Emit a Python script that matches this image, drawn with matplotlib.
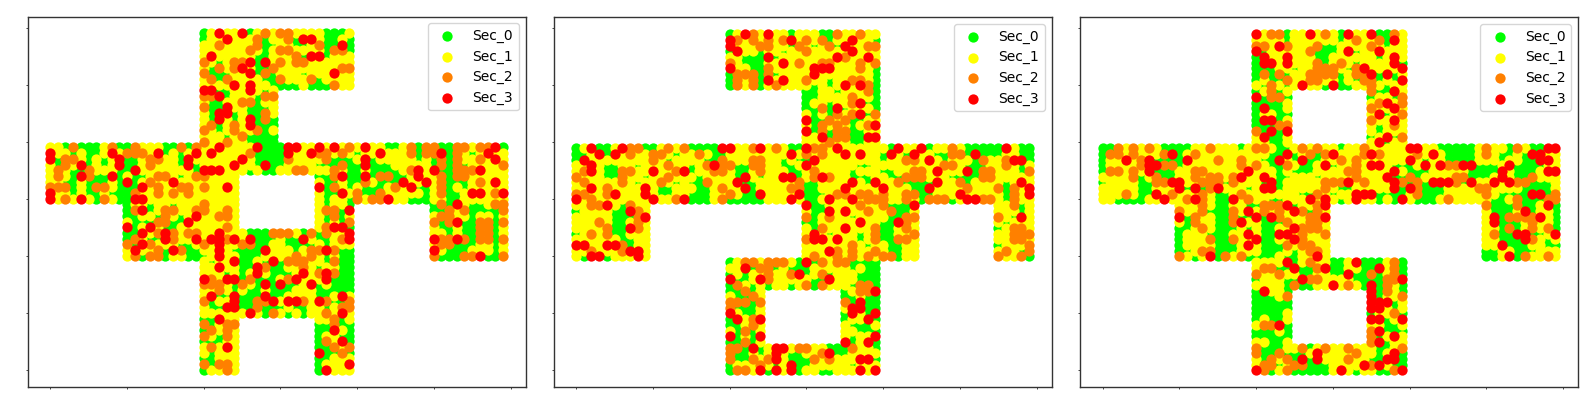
import matplotlib
matplotlib.use("Agg")
import matplotlib.pyplot as plt

LABELS = ["Sec_0", "Sec_1", "Sec_2", "Sec_3"]
COLORS = ["#00ff00", "#ffff00", "#ff8000", "#ff0000"]
TICKS = [0, 10, 20, 30, 40, 50, 60]

# occupied blocks: (x0, x1, y0, y1), inclusive
P1_SHAPE = [(20,39,50,59),(20,29,40,49),(0,59,35,39),(0,24,30,34),(35,59,30,34),(10,24,20,29),(35,39,25,29),(50,59,20,29),(20,39,10,24),(20,24,0,9),(35,39,0,9)]
P2_SHAPE = [(20,39,50,59),(30,39,40,49),(0,59,30,39),(0,9,20,29),(30,44,20,29),(55,59,20,29),(30,39,15,19),(20,39,15,19),(20,24,5,14),(35,39,5,14),(20,39,0,4)]
P3_SHAPE = [(20,39,50,59),(20,24,40,49),(35,39,40,49),(0,59,30,39),(10,29,20,29),(50,59,20,29),(20,39,15,19),(20,24,5,14),(35,39,5,14),(20,39,0,4)]

P1_S3 = {59:[22,25],58:[23,33,34],57:[38],55:[21,34,35],54:[26,28],53:[25],52:[26,37],50:[24,26],49:[20,21,26],48:[22],46:[23],45:[22,23],44:[22,26],43:[26],
39:[22,27,31,32,35,37,41,58],38:[0,8,14,19,21,31,34,43,51,57],37:[0,9,18,25,41,58],36:[4,9,18,24,28,41],35:[11,20,21,22,48,50,56],34:[4,8,38,41,48],33:[10,16,46,49,58],32:[12,23,35,47],31:[0,38,55,56,59],30:[0,4,11,12,44],
29:[53],28:[12,39],27:[19],26:[18,53],25:[10,13,37,38],24:[12,15,22,39],23:[15,19,21,22,24,26,33,39,50,53],22:[12,22],21:[11,16,22,28,36,50],20:[22,56],19:[24,29],18:[22,27],17:[27,33,36],16:[20,23,24,32,36],15:[28,30,34],13:[21,24,28,38],12:[24,29,31,32,35],11:[23,24],10:[26,38],9:[22],7:[37],5:[38],4:[23],3:[35],1:[39],0:[36]}
P1_S2 = {59:[28,30,31],58:[27,31],57:[22,27,35],56:[26,30,31,37,38],55:[32],54:[20,24,25,30,32,33],53:[22,24,29,38,39],52:[20,28],51:[21,23,30,34],50:[37],48:[20,21,28,29],47:[25,26],46:[20],45:[28],44:[28],43:[21,24],42:[20,24,27],41:[25],40:[20,23],
39:[3,8,11,17,19,39,47,49,50,53,54,56,57],38:[10,11,12,26,35,36,38,47,49,50,53],37:[2,3,13,14,31,36,51,53,56],36:[2,13,38,51,53,59],35:[1,5,32,33,37,47,53,54,55],34:[1,5,14,15,19,20,37,43,44,51,53,54],33:[13,41,51,56],32:[0,1,2,6,7,14,17,18,20,37,45,51],31:[11,14,16,18,40,43,51,58],30:[2,7,40,42,43],
29:[20,51,58,59],28:[11,15,16,19,20,23,36,37,52,54,59],27:[15,22,23,37,51,52],26:[14,15,39,50,52,56,57,59],25:[23,36,56,57],24:[14,16,18,19,29,30,31,34,36,56,57],23:[11,16,23,38,51,52,54,56,57,59],22:[10,13,20,25,26,51,52],21:[14,17,35,37,34],20:[11,13,14,32,34,50,54,55,59],19:[31,32,33,37],18:[28,33],17:[35,37],16:[21,26,31],15:[20,21,22,25],14:[22],12:[20,27,28,33,36,39],11:[27,38,39],10:[29,36],9:[37],8:[20,23,24,37],7:[21,23],6:[20,23],5:[36],4:[21,37,39],3:[38],1:[20,22,23],0:[23]}
P1_S0 = {59:[20,26,36,37,38],58:[20,28,32,36,37,39],57:[28,29,32,33,36,37,39],56:[28,36,37,39],55:[27,28,33,36],54:[22,27],53:[21,22,27,28],52:[21,22,23,27,29,33],51:[22,28,29,35],50:[29,30,31,32,34,35,36],49:[22,23,28],48:[23,27],47:[21,22,27],46:[21,22,26,27,28],45:[21,24,26,27],44:[21,24,27,29],43:[22,27,28,29],42:[22,28],41:[23,26,27,28,29],40:[26,27,28,29],
39:[2,4,5,6,9,10,15,16,18,28,29,30,44,45,48,51,52,59],38:[3,5,6,10,15,17,27,28,29,30,40,48,52,55],37:[1,5,7,10,11,17,27,28,29,30,37,38,39,42,48,50,52],36:[1,5,7,10,11,17,19,27,29,30,35,36,37,39,40,42,43,44,50,52,54],35:[3,4,9,10,19,26,28,29,39,40,42,43,44,45,51,52],34:[3,6,7,9,11,12,17,35,36,39,40,42,45,46,52],33:[2,3,5,6,7,9,11,36,37,39,40,43,44,45,52,53,54],32:[3,5,9,10,11,36,39,41,42,43,48,49,52,54],31:[3,5,6,8,9,10,36,37,41,42,49,52,53],30:[6,9,10,36,39,47,48,49,52,53],
29:[10,13,16,36,39,50,52,55,56],28:[10,13,36,38,50,51,55,56,57,58],27:[10,11,14,17,36,38,55,58],26:[11,12,13,16,17,36,38,51,54,55,58],25:[11,15,16,39,51,52,54,55,58],24:[10,11,26,27,28,33,35,52,54,55,58],23:[10,13,14,27,28,29,31,32,35,36,55,58],22:[11,17,18,27,28,31,32,33,34,36,53,54,55,58],21:[15,18,19,24,25,26,27,32,38,39,52,53,54,58],20:[12,15,18,19,20,25,26,27,36,38,39,51,52,53,57,58],19:[21,25,26,28,30,36,38,39],18:[25,26,29,30,35,38,39],17:[23,25,29,30,31,38,39],16:[25,27,28,29,37,38,39],15:[24,27,29,31,32,35,37,38,39],14:[24,26,27,29,30,31,35,36,37,38,39],13:[22,23,25,26,27,29,30,35,36],12:[21,25,26,37,38],11:[21,22,25,26,28,29,30,32,33,36],10:[28,31,33],9:[20,21,38],8:[21,35,36,38,39],7:[20,35,36,39],6:[22,35,38,39],5:[20,21,22,35,39],4:[35,36],3:[21,36,37,39],2:[20,21,35,36],1:[21,35],0:[20,35]}

P2_S3 = {59:[22,25],58:[20,28,36],57:[20,35],56:[21,36],55:[25,34,38],54:[27],53:[20,31,32,33],52:[31],51:[25,27],50:[35,37],47:[37],46:[34],45:[37],44:[30],43:[39],42:[30],41:[32,38,39],
39:[2,6,19,20,24,30,34,42,45,56],38:[3,5,28,35,37,41,44,52],37:[1,31,46,57,58],36:[2,18,30],35:[2,10,14,47,51],34:[22,27,28,32],33:[21,36,39,47,58],32:[2,9,22,35,40,46,59],31:[5,9,24,29,50,59],30:[0,10,14,28,33,36,51,52],
29:[4,30,44],28:[7,33,35],27:[9,58],26:[37,42],25:[7,35],24:[31],23:[31,32,34],22:[0,1,4,5],21:[7,8,33],20:[2,3,8],19:[30],18:[22],17:[29],16:[20,24,33],14:[39],12:[37],11:[36,37],10:[20,36,39],9:[21,24,38],6:[20,24,39],5:[35,38],4:[23,26,27],3:[26,33],2:[26,37,38],1:[28],0:[24,26,28,37,39]}
P2_S2 = {59:[23,34,37],58:[21,23,25,27,30,32],57:[24,25,29,33,38,39],56:[30],55:[35],54:[20,29,32,33,37,39],53:[25,37],52:[21,22,23,25],51:[21,23,30,36,37],50:[21,23,26,38],49:[38],48:[36],47:[36],46:[32],45:[34,36,39],44:[33,35],43:[32,34,38],42:[32,34,35],41:[34,35],40:[33],
39:[7,8,12,14,23,26,31,32,49],38:[7,10,11,16,30,32,49,50],37:[10,19,23,24,43,44,53,56],36:[12,17,19,20,23,24,48,49,56],35:[1,6,7,13,18,19,24,31,44,45,53,54,59],34:[0,6,12,31,33,43,44,45,53,54],33:[1,6,11,17,29,42,50],32:[4,19,28,29,51,55,57],31:[0,1,4,20,34,35,37,38,40,43,44,57],30:[2,13,19,38,39,40,43,46,47,48,53,54,57],
29:[2,3,7,37,40,57],28:[8,38,41],27:[8,9,30,33,43,44,55],26:[3,8,43],25:[4,8,32,39,43,57,58],24:[2,4,39,44,57,58,59],23:[30,39,42,43,57,58],22:[6,36,59],21:[2,6,34,36,39,56,59],20:[31,34,36,38,40,41,55,58],19:[22,23,25,26,27,32,34,35],18:[24,25],17:[25,28,32],16:[25],15:[21,30,32,37,38],14:[22,37,38],13:[23],12:[20,21,22,24,35],11:[20],9:[23],8:[23],7:[22],5:[22],4:[20,21,29,30,36],3:[20,32],2:[20,23,25,31,33],1:[24],0:[21,22]}
P2_S0 = {59:[20,28,32,33],58:[33,39],57:[28,31,34],56:[20,24,27],55:[22,23,24,26],54:[22,23,24],53:[23,24,39],52:[20,24,26,39],51:[20,24,33,39],50:[20,24,31,33,39],49:[30,31,34,39],48:[30,31,39],47:[30,33,38,39],46:[30,31,33,35,39],45:[31,33,38],44:[31,32,36,37],43:[31,36],42:[31,33,36,37],41:[33,36,37],40:[36,37],
39:[0,3,4,9,10,15,16,17,18,28,29,41,46,51,52,53,54,55,58,59],38:[0,1,4,5,13,18,19,40,43,47,48,51,52,53,54,55,58,59],37:[0,12,17,18,27,29,30,40,48,52,59],36:[4,5,8,15,21,22,27,28,30,37,38,51,52,53,58],35:[4,5,15,21,22,28,29,36,40,41,52,58],34:[4,5,9,16,21,24,29,36,37,38,41,42,49,50,51,52],33:[8,13,15,16,22,23,30,31,38,43,44,45,46,51,56],32:[11,12,16,17,23,30,31,44,45,56],31:[11,12,15,16,17,22,23,30,31,32,45,46,56],30:[15,16,17,20,21,22,23,24,30,31,45,49,56],
29:[6,31,32,41,42,43,58],28:[0,5,6,31,32,42,43,58],27:[5,6,7,31,36,41,42,57],26:[5,6,30,31,40,41,56],25:[5,6,31,40,41,55],24:[0,5,6,33,37,40,41],23:[6,7,37,40,41],22:[7,38,41,42,55],21:[41,42,58],20:[1,4,42,59],19:[20,29,31,36,37,38,39],18:[23,26,28,29,30,36,38,39],17:[20,22,30,33,37,38,39],16:[21,22,31,32,37,38,39],15:[20,23,25,28,31,36,39],14:[20,21,23,35,39],13:[21,22,35,36,38,39],12:[23,36,38,39],11:[21,22,23,38,39],10:[22,23,35,38],9:[20,35,39],8:[20,21,36,37,38],7:[21,23,37,38,39],6:[21,23,36],5:[20,21,23,36,39],4:[22,24,33,34,35,39],3:[21,22,24,28,29,34,35],2:[21,22,28,29,30,39],1:[20,26,29,30,36],0:[20,25,29,32,33]}

P3_S3 = {59:[20,27,32,35],58:[38],57:[23],56:[20,32,36],55:[21,24,38],54:[21,22,24,38],53:[34,39],52:[35,37],51:[39],50:[26,30],49:[38],48:[20],47:[37],46:[21,38],45:[36],44:[21,22,38],42:[22,24],41:[21,37],40:[36],
39:[40,41,58,59],38:[9,24,30,35,43,56,57],37:[3,6,11,23,26,40,57,58],36:[6,7,29,35,36,42,44,47,48,53],35:[6,19,38,52,58,59],34:[18,21,37,52],33:[9,10,22,32,38,43,44,45,48,51,53],32:[10,12,15,21,22,38,40],31:[7,33,34,35,56,57],30:[8,12,17,27,29,33,39],
29:[24,29,58],28:[19,25,55],27:[10,20,22,29,51,57],26:[18,51],25:[25],24:[19,23,24,54,55,59],23:[20,25,55],22:[19,52],20:[14,28,53],19:[24,33],18:[25,29,36],17:[32],16:[26,39],15:[30,35],14:[21,35],13:[35],12:[35,36,37],11:[35,36],9:[35,36,39],8:[23],7:[36],6:[38],5:[36],3:[28,38],2:[26,28,37,38],1:[34,36],0:[20,31,39]}
P3_S2 = {59:[22,23,29,38],58:[33,36],57:[20,21,24,28,35],56:[27],54:[28,31],53:[28,29,30,33],52:[21,23,27,28,29,30,33,34],51:[24,27,28,34,35],50:[22,35],49:[22,35],48:[22,23,39],47:[36,39],46:[35],45:[39],44:[35],43:[23,24,38],42:[20],41:[39],
39:[2,4,6,14,20,21,26,28,34,50,54],38:[1,2,4,8,12,27,29,34,36,41,50],37:[5,15,18,31,33],36:[5,8,9,18,20,24,33,45,46],35:[1,2,4,12,13,32,33],34:[4,7,12,14,15,17,33,40,46,47,56],33:[7,8,13,14,15,17,29,30,31,34,39,41,46,54,55],32:[14,29,41,49,50],31:[3,9,13,18,28,41,50,59],30:[11,13,19,45,54,58,59],
29:[13,21,22,23,28,50,54],28:[10,13,17,21,23,26,28],27:[12,17,23,27,28,53,54,55,56],26:[12,17,24,27,28,56],25:[13,26,27,28,53,56,58],24:[26,29,51],23:[14,17,26,56],22:[24,26,27],21:[13,14,27,28],20:[10,16,18,28,55,58],19:[27,38],18:[21,22,28,38],17:[20,23,35,38],16:[27,28,37,38],15:[25,32,37],14:[37],13:[24,39],10:[38],8:[21,22],7:[35],6:[35],5:[35],4:[20,26,29,32,39],3:[20,23,33],2:[22,24,32],1:[21,22,25,26,35],0:[21,24,38]}
P3_S0 = {59:[24,31,36,37],58:[24,31,37],57:[29,30,37],56:[21,28,29,30,33],55:[20,28,29,36],54:[20,29,33,39],53:[20,21,22,25,32],52:[20,22,24,31,36,38],51:[20,22,23,31,33,36,38],50:[21,24,29,31,32,37],49:[20,23,36,37],48:[21,24,35,38],47:[20,21,22,23,36],46:[20,22,23,35],45:[20,23,24,36,37],44:[20,23],43:[20,21,22,36],42:[21,23,36],41:[22,23,35,38],40:[22,23,37],
39:[0,1,8,9,10,11,18,23,24,31,44,45,46,47,48,53,56,57],38:[0,8,9,10,22,23,25,28,45,46,47,48,52,53,55],37:[0,7,8,9,10,21,22,25,27,28,42,45,46,47,48,52,55,56],36:[0,7,10,22,23,26,27,30,38,39,40,49,50,51,54,55,56,57],35:[0,7,8,9,23,25,26,27,40,41,42,48,49,50,51,54,55,56],34:[5,8,9,23,24,28,38,39,41,48,49,50,54,55],33:[0,5,6,16,21,23,40,42,47,56,57,58],32:[5,6,11,13,19,23,31,32,39,42,43,44,55,56,57,58],31:[5,6,15,16,26,27,30,36,37,38,39,42,43,44,52,53,54,55,58],30:[2,3,4,5,15,16,22,23,31,36,38,41,42,43,51,52,55,56,57],
29:[15,16,19,20,25,51,52,53,55,56,59],28:[14,15,16,27,51,52,53,56,59],27:[11,15,16,18,19,21,52,59],26:[11,15,16,21,22,23,52,53,54,59],25:[10,11,15,16,17,19,21,22,52,54,59],24:[10,14,15,16,21,22,52,53,56,57],23:[10,15,16,17,21,22,52,53,54,58],22:[10,15,16,17,21,22,23,53,54,55,58,59],21:[10,11,15,16,17,21,22,23,25,50,51,54,55,56],20:[12,15,19,20,21,22,24,25,50,51,54],19:[24,25,30,31,34,35,36,39],18:[23,24,26,27,30,31,34,35,39],17:[26,27,30,31,33,34,36,39],16:[20,24,25,33,34,35,36,39],15:[24,26,27,34,36,39],14:[20,24,36,39],13:[20,21,22,36],12:[20,21,22,23,24,38],11:[20,21,22,23,24,38],10:[20,21,22,23,35,39],9:[20,22,23,37],8:[24,37,38],7:[20,21,22,24,37,38,39],6:[20,21,22,23,24,36],5:[22,23,36,37],4:[21,22,23,26,27,36,37],3:[21,22,24,25,26,36,39],2:[21,25,27,35,36,39],1:[23,27,28,29,38,39],0:[22,25,26,27,28,29,33,36,37]}

PANELS = [
    (P1_SHAPE, P1_S0, P1_S2, P1_S3, (27.5, 16.5, 525.5, 386.7)),
    (P2_SHAPE, P2_S0, P2_S2, P2_S3, (553.5, 17.3, 1051.5, 387.3)),
    (P3_SHAPE, P3_S0, P3_S2, P3_S3, (1080.0, 17.3, 1578.0, 387.3)),
]
W, H = 1596, 405


def classify(shape, s0, s2, s3):
    cells = {}
    for x0, x1, y0, y1 in shape:
        for x in range(x0, x1 + 1):
            for y in range(y0, y1 + 1):
                cells[(x, y)] = 1
    for cls, rows in ((0, s0), (2, s2), (3, s3)):
        for y, xs in rows.items():
            for x in xs:
                if (x, y) in cells:
                    cells[(x, y)] = cls
    return cells


fig = plt.figure(figsize=(W / 100, H / 100), dpi=100)
for shape, s0, s2, s3, (l, t, r, b) in PANELS:
    ax = fig.add_axes([l / W, 1 - b / H, (r - l) / W, (b - t) / H])
    cells = classify(shape, s0, s2, s3)
    for c in range(4):
        pts = [k for k, v in cells.items() if v == c]
        ax.scatter([p[0] for p in pts], [p[1] for p in pts], s=55, c=COLORS[c],
                   linewidths=0, label=LABELS[c], zorder=2 + c)
    ax.set_xticks(TICKS)
    ax.set_yticks(TICKS)
    ax.set_xticklabels([])
    ax.set_yticklabels([])
    ax.tick_params(length=1.6, width=0.7, color="#444444")
    for s in ax.spines.values():
        s.set_color("#333333")
        s.set_linewidth(1.0)
    ax.legend(loc="upper right", fontsize=10, borderaxespad=0.5,
              labelspacing=0.46, handletextpad=0.8)
fig.savefig("out.png", dpi=100)
